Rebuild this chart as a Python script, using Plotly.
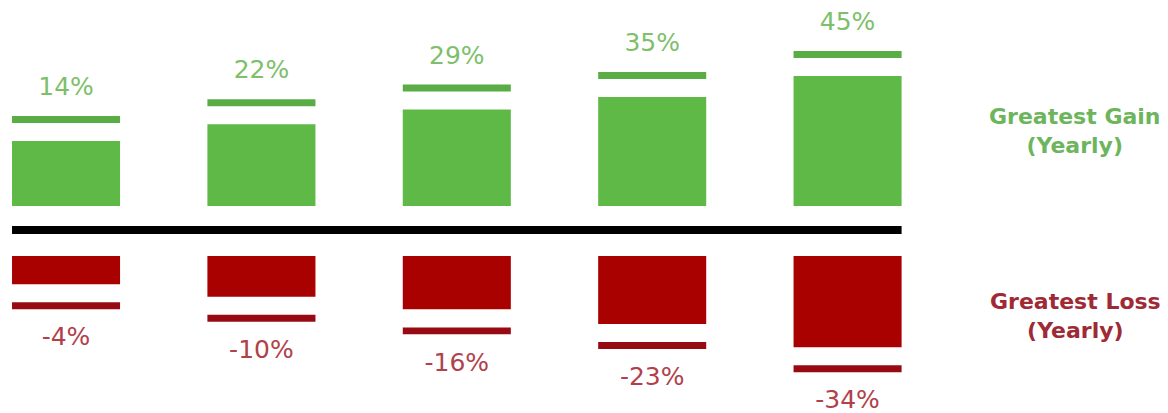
import plotly.graph_objects as go

# ---- data ----
categories = [0, 1, 2, 3, 4]
gains = [14, 22, 29, 35, 45]
losses = [-4, -10, -16, -23, -34]
gain_labels = ["14%", "22%", "29%", "35%", "45%"]
loss_labels = ["-4%", "-10%", "-16%", "-23%", "-34%"]

# ---- style constants (axis units, 1 unit ~ 2.1 px) ----
G_BASE = 11.43      # gap between black line and green bars
G_STUB = 16.9       # minimum stub of green bars
R_BASE = -12.38     # gap between black line and red bars
R_STUB = 9.4
GAP = 8.6           # gap between bar and thin line
THICK = 3.3         # thin line thickness
LBL_G = 12.9        # label offset above green line
LBL_R = 14.3        # label offset below red line
BAR_W = 0.553

GREEN = "#5fb947"
GREEN_LINE = "#5aad45"
GREEN_TXT = "#7dbf6a"
RED = "#a90000"
RED_LINE = "#980a12"
RED_TXT = "#b0414b"

fig = go.Figure()

g_top = [G_BASE + G_STUB + v for v in gains]
r_bot = [R_BASE - R_STUB + v for v in losses]

# green bars
fig.add_trace(go.Bar(x=categories, y=[G_STUB + v for v in gains], base=G_BASE,
                     width=BAR_W, marker=dict(color=GREEN, line=dict(width=0)),
                     hoverinfo="skip"))
# green thin lines
fig.add_trace(go.Bar(x=categories, y=[THICK] * len(gains), base=[t + GAP for t in g_top],
                     width=BAR_W, marker=dict(color=GREEN_LINE, line=dict(width=0)),
                     hoverinfo="skip"))
# red bars
fig.add_trace(go.Bar(x=categories, y=[v - R_STUB for v in losses], base=R_BASE,
                     width=BAR_W, marker=dict(color=RED, line=dict(width=0)),
                     hoverinfo="skip"))
# red thin lines
fig.add_trace(go.Bar(x=categories, y=[-THICK] * len(losses), base=[b - GAP for b in r_bot],
                     width=BAR_W, marker=dict(color=RED_LINE, line=dict(width=0)),
                     hoverinfo="skip"))

# labels
fig.add_trace(go.Scatter(x=categories, y=[t + GAP + THICK + LBL_G for t in g_top],
                         mode="text", text=gain_labels, cliponaxis=False,
                         textfont=dict(family="DejaVu Sans", size=25, color=GREEN_TXT),
                         hoverinfo="skip"))
fig.add_trace(go.Scatter(x=categories, y=[b - GAP - THICK - LBL_R for b in r_bot],
                         mode="text", text=loss_labels, cliponaxis=False,
                         textfont=dict(family="DejaVu Sans", size=25, color=RED_TXT),
                         hoverinfo="skip"))

# black divider line
fig.add_shape(type="line", xref="x", yref="y",
              x0=categories[0] - BAR_W / 2, x1=categories[-1] + BAR_W / 2, y0=0, y1=0,
              line=dict(color="black", width=8))

# legend-like side texts
side = [
    ("Greatest Gain<br>(Yearly)", 0.6828, "#6db55c"),
    ("Greatest Loss<br>(Yearly)", 0.2337, "#9e2a36"),
]
for txt, yy, col in side:
    fig.add_annotation(text=txt, x=0.9204, y=yy, xref="paper", yref="paper",
                       showarrow=False, xanchor="center", yanchor="middle", align="center",
                       font=dict(family="DejaVu Sans", size=22, color=col, weight="bold"))

fig.update_layout(
    width=1168, height=413,
    margin=dict(l=0, r=0, t=0, b=0),
    paper_bgcolor="white", plot_bgcolor="white",
    barmode="overlay", showlegend=False,
    xaxis=dict(range=[-0.338, 5.64], visible=False, showgrid=False, zeroline=False),
    yaxis=dict(range=[-87.14, 109.52], visible=False, showgrid=False, zeroline=False),
)

fig.write_html("out.html")
